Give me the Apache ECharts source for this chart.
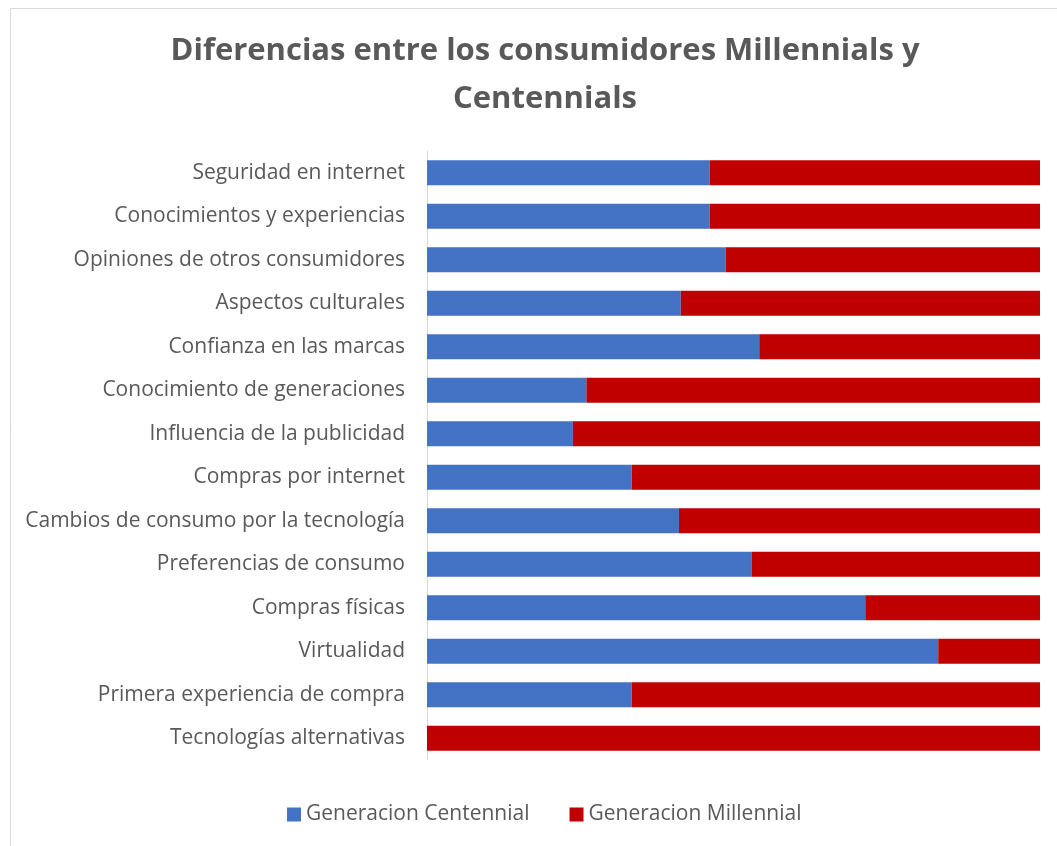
<!DOCTYPE html>
<html>
<head>
<meta charset="utf-8">
<script src="https://cdn.jsdelivr.net/npm/echarts@6/dist/echarts.min.js"></script>
<style>
html,body{margin:0;padding:0;background:#fff;}
#chart{width:1057px;height:846px;}
</style>
</head>
<body>
<div id="chart"></div>
<script>
const categories = [
  "Seguridad en internet",
  "Conocimientos y experiencias",
  "Opiniones de otros consumidores",
  "Aspectos culturales",
  "Confianza en las marcas",
  "Conocimiento de generaciones",
  "Influencia de la publicidad",
  "Compras por internet",
  "Cambios de consumo por la tecnología",
  "Preferencias de consumo",
  "Compras físicas",
  "Virtualidad",
  "Primera experiencia de compra",
  "Tecnologías alternativas"
];
const centennial = [46.1, 46.1, 48.7, 41.4, 54.2, 26.0, 23.8, 33.4, 41.1, 53.0, 71.5, 83.4, 33.4, 0];
const millennial = [53.9, 53.9, 51.3, 58.6, 45.8, 74.0, 76.2, 66.6, 58.9, 47.0, 28.5, 16.6, 66.6, 100];
const seriesNames = ["Generacion Centennial", "Generacion Millennial"];
const titleLines = ["Diferencias entre los consumidores Millennials y", "Centennials"];

const FONT = "'Open Sans', 'Noto Sans', sans-serif";
const chart = echarts.init(document.getElementById('chart'), null, {renderer: 'canvas'});
chart.setOption({
  backgroundColor: '#fff',
  animation: false,
  title: {
    text: titleLines.join('\n'),
    left: 540,
    textAlign: 'center',
    top: 22,
    textStyle: {
      fontFamily: FONT,
      fontSize: 31,
      fontWeight: 'bold',
      color: '#595959',
      lineHeight: 48
    }
  },
  graphic: [{
    type: 'rect',
    shape: {x: 10.5, y: 8.5, width: 1060, height: 850},
    style: {fill: 'none', stroke: '#d9d9d9', lineWidth: 1},
    silent: true
  }],
  legend: {
    bottom: 16,
    left: 282,
    itemWidth: 14,
    itemHeight: 14,
    itemGap: 40,
    icon: 'rect',
    textStyle: {fontFamily: FONT, fontSize: 21, color: '#595959'},
    data: seriesNames
  },
  grid: {left: 427, right: 17, top: 151, bottom: 86, containLabel: false},
  xAxis: {
    type: 'value',
    min: 0,
    max: 100,
    axisLine: {show: false},
    axisTick: {show: false},
    axisLabel: {show: false},
    splitLine: {show: false}
  },
  yAxis: {
    type: 'category',
    inverse: true,
    data: categories,
    axisLine: {show: true, lineStyle: {color: '#d9d9d9', width: 1}},
    axisTick: {show: false},
    axisLabel: {
      fontFamily: FONT,
      fontSize: 21,
      color: '#595959',
      margin: 22,
      padding: [4, 0, 0, 0]
    }
  },
  series: [
    {
      name: seriesNames[0],
      type: 'bar',
      stack: 'total',
      barWidth: 25,
      itemStyle: {color: '#4472c4'},
      data: centennial
    },
    {
      name: seriesNames[1],
      type: 'bar',
      stack: 'total',
      barWidth: 25,
      itemStyle: {color: '#c00000'},
      data: millennial
    }
  ]
});
</script>
</body>
</html>
